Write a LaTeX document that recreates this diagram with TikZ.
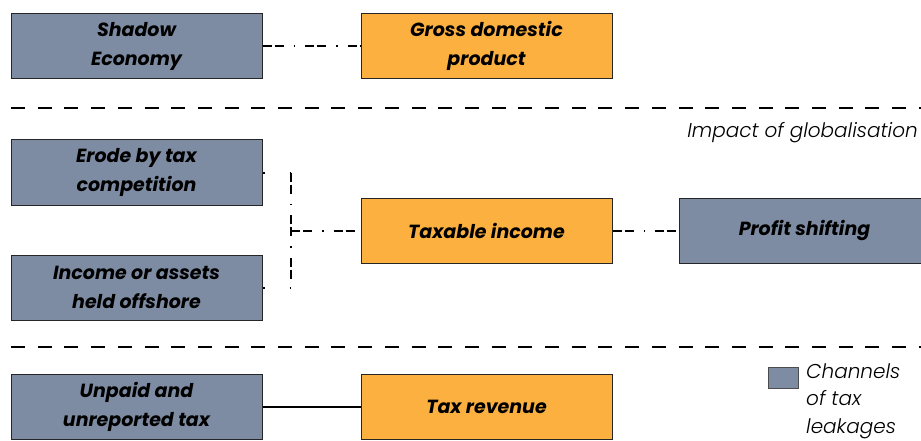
\documentclass[tikz,border=0pt]{standalone}
\usepackage{fontspec}
\setmainfont{Poppins}
\newfontfamily\lightit{Poppins Light Italic}
\definecolor{chanblue}{HTML}{7D8CA2}
\definecolor{coreorange}{HTML}{FBB040}
\begin{document}
\begin{tikzpicture}[x=1pt,y=-1pt,
  box/.style={draw=black!85, line width=1pt, minimum width=251pt, minimum height=65pt,
    inner sep=0pt, align=center, font=\fontsize{19}{29}\selectfont\bfseries\itshape},
  chan/.style={box, fill=chanblue},
  core/.style={box, fill=coreorange},
  dashdot/.style={line width=2pt, dash pattern=on 9pt off 3pt on 9pt off 10pt on 1.5pt off 10pt},
  stubline/.style={line width=2pt, dash pattern=on 2pt off 25pt on 3pt},
  solidlink/.style={line width=2pt},
  sep/.style={line width=2.5pt, dash pattern=on 14pt off 12.7pt},
  note/.style={font=\lightit\fontsize{20}{27.5}\selectfont, inner sep=0pt}]
\useasboundingbox (0,0) rectangle (921,441);

% top row
\node[chan] (shadow) at (136.5,46) {Shadow\\Economy};
\node[core] (gdp) at (486.5,46) {Gross domestic\\product};
\draw[dashdot] (shadow.east) -- (gdp.west);

% separator
\coordinate (s1a) at (11,108);
\coordinate (s1b) at (921,108);
\draw[sep] (s1a) -- (s1b);
\node[note, anchor=east] (impact) at (918,133) {Impact of globalisation};

% middle row
\node[chan] (erode) at (136.5,172.5) {Erode by tax\\competition};
\node[chan] (offshore) at (136.5,287.5) {Income or assets\\held offshore};
\node[core] (taxable) at (486.5,230.5) {Taxable income};
\node[chan] (profit) at (804.5,230.5) {Profit shifting};
\coordinate (jtop) at (291,172.5);
\coordinate (jmid) at (291,230.5);
\coordinate (jbot) at (291,287.5);
\draw[stubline] (erode.east) -- (jtop);
\draw[stubline] (offshore.east) -- (jbot);
\draw[dashdot] (jtop) -- (jbot);
\draw[dashdot] (jmid) -- (taxable.west);
\draw[dashdot] (taxable.east) -- (profit.west);

% separator
\coordinate (s2a) at (11,347);
\coordinate (s2b) at (921,347);
\draw[sep] (s2a) -- (s2b);

% bottom row
\node[chan] (unpaid) at (136.5,407) {Unpaid and\\unreported tax};
\node[core] (revenue) at (486.5,407) {Tax revenue};
\draw[solidlink] (unpaid.east) -- (revenue.west);

% legend
\node[draw=black!70, line width=0.8pt, fill=chanblue, minimum width=30pt, minimum height=21pt, inner sep=0pt] (key) at (783,377.5) {};
\node[note, anchor=north west, align=left] (keytext) at (806,363) {Channels\\of tax\\leakages};
\end{tikzpicture}
\end{document}
